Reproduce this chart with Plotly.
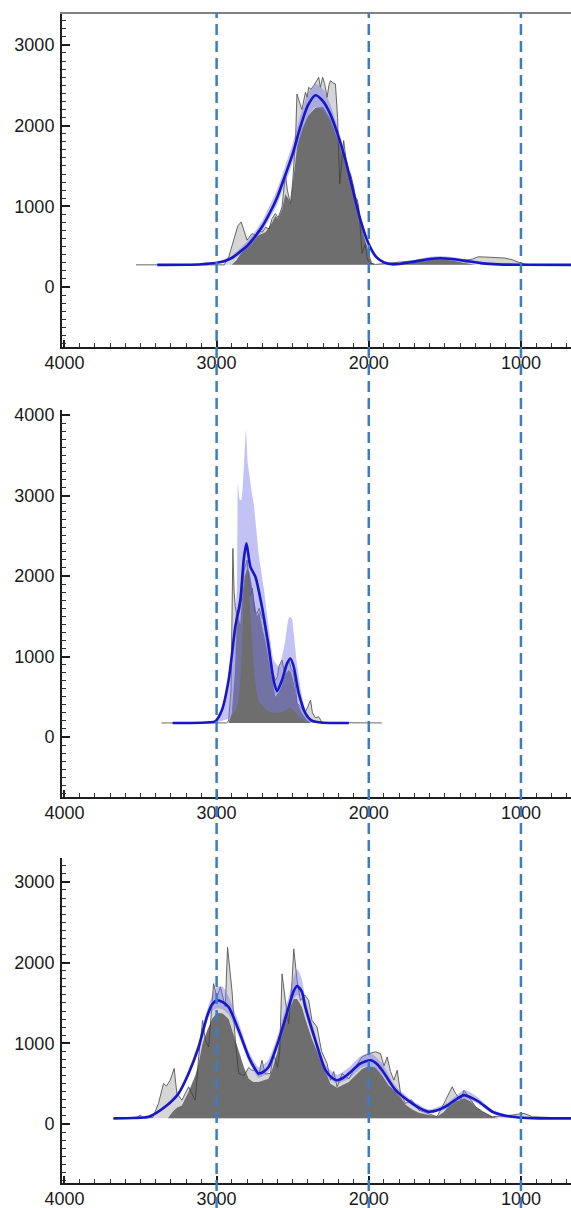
import plotly.graph_objects as go

# ---------------- data: panel 1 ----------------
base1 = 275
raw1_x = [3530, 2950, 2921, 2890, 2860, 2838, 2818, 2800, 2785, 2767, 2745, 2724, 2700, 2678, 2655, 2635, 2614, 2595,
          2570, 2560, 2548, 2535, 2515, 2500, 2493, 2480, 2472, 2455, 2440, 2416, 2405, 2395, 2380, 2362, 2340, 2329,
          2318, 2303, 2290, 2274, 2262, 2252, 2235, 2219, 2205, 2191, 2180, 2165, 2150, 2135, 2120, 2100, 2088, 2075,
          2066, 2055, 2044, 2033, 2022, 2011, 1995, 1956, 1900, 1800, 1700, 1600, 1520, 1450, 1380, 1320, 1280, 1240,
          1200, 1150, 1110, 1060, 1030, 1000, 960, 671]
raw1_y = [275, 275, 370, 560, 760, 806, 700, 580, 620, 663, 640, 704, 680, 740, 720, 850, 910, 860,
          992, 1150, 1404, 1200, 1034, 1300, 1486, 1900, 2392, 2300, 2200, 2413, 2350, 2474, 2450, 2495, 2577, 2598,
          2474, 2598, 2520, 2350, 2500, 2557, 2530, 2515, 2100, 1280, 1500, 1815, 1600, 1450, 1404, 1250, 1115, 1080,
          992, 700, 416, 480, 540, 354, 300, 280, 290, 300, 320, 345, 350, 340, 330, 345, 375, 372,
          370, 365, 360, 340, 320, 295, 280, 275]
dark1_x = [2900, 2870, 2840, 2800, 2767, 2724, 2678, 2635, 2614, 2595, 2570, 2548, 2530, 2515, 2493, 2470, 2440, 2400,
           2350, 2300, 2250, 2200, 2150, 2100, 2050, 2020, 2000, 1980, 1960, 1800, 1700, 1600, 1520, 1450,
           1380, 1300]
dark1_y = [275, 330, 420, 520, 600, 640, 680, 800, 880, 850, 960, 1150, 1100, 1030, 1400, 1750, 1950, 2120,
           2220, 2230, 2080, 1820, 1500, 1120, 760, 560, 420, 300, 275, 285, 310, 335, 340, 330,
           300, 275]
blue1_x = [3390, 3200, 3100, 3000, 2950, 2900, 2850, 2800, 2750, 2700, 2650, 2600, 2550, 2500, 2450, 2400, 2350, 2300,
           2250, 2200, 2150, 2100, 2050, 2000, 1950, 1900, 1850, 1800, 1700, 1600, 1530, 1450, 1350, 1250, 1150, 1000, 671]
blue1_y = [275, 276, 282, 300, 320, 360, 430, 510, 620, 750, 920, 1120, 1380, 1650, 1980, 2250, 2375, 2300,
           2130, 1870, 1550, 1170, 800, 530, 370, 305, 282, 285, 315, 348, 357, 347, 320, 293, 281, 276, 275]
band1_x = [3390, 3000, 2900, 2800, 2700, 2600, 2500, 2450, 2400, 2350, 2300, 2250, 2200, 2150, 2100, 2050, 2000, 1950,
           1900, 1800, 1700, 1600, 1530, 1450, 1350, 1250, 1150, 1000, 671]
band1_hi = [276, 310, 390, 560, 820, 1220, 1780, 2120, 2400, 2520, 2450, 2250, 1950, 1620, 1230, 850, 570, 395,
            320, 300, 335, 375, 385, 372, 338, 305, 288, 280, 277]
band1_lo = [274, 292, 335, 470, 690, 1030, 1540, 1850, 2110, 2230, 2180, 2030, 1790, 1480, 1110, 750, 495, 350,
            293, 275, 298, 325, 333, 325, 305, 283, 276, 275, 274]

# ---------------- data: panel 2 ----------------
base2 = 175
raw2_x = [3362, 2935, 2921, 2905, 2893, 2885, 2877, 2865, 2850, 2838, 2822, 2810, 2800, 2790, 2778, 2765, 2750, 2735,
          2720, 2705, 2691, 2675, 2658, 2645, 2630, 2614, 2600, 2590, 2570, 2555, 2540, 2526, 2510, 2495, 2480, 2471,
          2450, 2420, 2400, 2383, 2370, 2350, 2329, 2310, 2290, 1914]
raw2_y = [175, 175, 200, 600, 2343, 1800, 1619, 1500, 1550, 1700, 2050, 2150, 2200, 2000, 1750, 1850, 1550, 1536,
          1600, 1500, 1453, 1250, 1205, 1000, 800, 700, 750, 880, 956, 820, 900, 956, 850, 800, 600, 418,
          380, 300, 380, 460, 300, 240, 252, 190, 178, 175]
dark2_x = [2921, 2900, 2880, 2870, 2860, 2845, 2830, 2815, 2800, 2785, 2770, 2750, 2735, 2720, 2700, 2680, 2660, 2640,
           2614, 2590, 2570, 2550, 2526, 2510, 2490, 2470, 2440, 2410, 2380]
dark2_y = [175, 300, 800, 1300, 1500, 1400, 1800, 2000, 2094, 2050, 1900, 1650, 1500, 1550, 1350, 1200, 1000, 750,
           500, 560, 650, 780, 832, 800, 650, 420, 300, 220, 175]
blue2_x = [3289, 3100, 3050, 3009, 2965, 2921, 2877, 2844, 2822, 2804, 2778, 2745, 2702, 2658, 2625, 2603, 2570, 2537,
           2515, 2493, 2460, 2416, 2380, 2350, 2300, 2131]
blue2_y = [175, 178, 183, 195, 335, 708, 1370, 1702, 2198, 2406, 2115, 1991, 1619, 1122, 700, 570, 708, 915,
           976, 873, 542, 294, 210, 190, 178, 175]
band2_x = [3100, 3009, 2965, 2943, 2921, 2899, 2877, 2866, 2860, 2848, 2838, 2822, 2807, 2795, 2789, 2770, 2756, 2740,
           2724, 2691, 2658, 2625, 2592, 2570, 2548, 2530, 2520, 2505, 2493, 2471, 2438, 2416, 2394, 2350, 2300]
band2_hi = [178, 200, 360, 460, 800, 1038, 1500, 1867, 3150, 2950, 2943, 3300, 3813, 3400, 3316, 3050, 2900, 2600,
            2285, 1867, 1370, 956, 873, 1000, 1205, 1450, 1494, 1470, 1290, 900, 500, 330, 250, 200, 178]
band2_lo = [175, 180, 200, 215, 230, 270, 330, 380, 420, 600, 900, 1700, 2100, 2000, 1850, 1300, 900, 600,
            450, 370, 320, 300, 300, 310, 330, 350, 360, 350, 330, 280, 220, 195, 185, 178, 175]

# ---------------- data: panel 3 ----------------
base3 = 70
raw3_x = [3678, 3530, 3502, 3480, 3420, 3382, 3349, 3330, 3305, 3279, 3261, 3228, 3184, 3140, 3118, 3092, 3074, 3052,
          3020, 2998, 2975, 2943, 2928, 2899, 2877, 2855, 2820, 2789, 2770, 2745, 2724, 2702, 2680, 2647, 2625, 2600,
          2585, 2570, 2548, 2526, 2504, 2493, 2471, 2449, 2420, 2395, 2373, 2340, 2310, 2274, 2252, 2230, 2208, 2175,
          2130, 2088, 2044, 2000, 1956, 1923, 1900, 1879, 1857, 1835, 1813, 1791, 1758, 1720, 1671, 1610, 1551, 1506,
          1452, 1430, 1396, 1375, 1340, 1298, 1250, 1188, 1057, 980, 925, 671]
raw3_y = [70, 72, 111, 75, 80, 255, 503, 470, 543, 688, 379, 296, 461, 296, 832, 1284, 1037, 955,
          1739, 1574, 1700, 1450, 2190, 1655, 1037, 626, 600, 700, 667, 667, 600, 790, 620, 626, 873, 700,
          900, 1861, 1532, 1244, 1780, 2170, 1780, 1532, 1600, 1532, 1284, 1202, 900, 750, 543, 650, 461, 626,
          560, 708, 832, 873, 894, 873, 720, 832, 650, 543, 667, 379, 255, 300, 173, 130, 90, 255,
          461, 380, 296, 420, 330, 214, 150, 90, 111, 132, 90, 70]
dark3_x = [3320, 3290, 3261, 3228, 3184, 3140, 3118, 3092, 3064, 3030, 2998, 2960, 2921, 2880, 2855, 2820, 2789, 2760,
           2724, 2690, 2658, 2630, 2600, 2570, 2548, 2526, 2493, 2471, 2440, 2417, 2373, 2340, 2300, 2274, 2252, 2208,
           2175, 2131, 2088, 2044, 2000, 1956, 1912, 1870, 1835, 1791, 1758, 1715, 1671, 1605, 1551, 1506, 1475, 1430,
           1396, 1375, 1330, 1298, 1250, 1188, 1150]
dark3_y = [70, 150, 200, 230, 400, 600, 750, 1000, 1150, 1300, 1380, 1370, 1300, 1050, 900, 700, 560, 520,
           520, 540, 560, 700, 900, 1200, 1350, 1400, 1550, 1550, 1450, 1300, 1050, 900, 700, 600, 500, 450,
           480, 520, 600, 680, 720, 700, 600, 480, 420, 330, 240, 180, 140, 110, 90, 150, 220, 280,
           296, 320, 280, 214, 150, 90, 70]
blue3_x = [3678, 3550, 3447, 3338, 3250, 3184, 3118, 3064, 3030, 2998, 2960, 2921, 2855, 2789, 2750, 2724, 2690, 2658,
           2592, 2526, 2493, 2470, 2440, 2417, 2351, 2285, 2240, 2208, 2170, 2131, 2054, 1988, 1950, 1912, 1824, 1715,
           1660, 1605, 1550, 1496, 1430, 1375, 1330, 1276, 1188, 1120, 1057, 960, 881, 671]
blue3_y = [70, 75, 90, 214, 379, 626, 955, 1326, 1480, 1532, 1510, 1450, 1161, 831, 690, 626, 650, 708,
           1037, 1450, 1650, 1710, 1640, 1450, 1037, 667, 570, 543, 570, 626, 750, 790, 750, 667, 420, 255,
           190, 152, 170, 214, 300, 358, 330, 276, 152, 110, 90, 75, 70, 70]
band3_x = [3678, 3447, 3338, 3250, 3184, 3118, 3064, 3030, 2998, 2960, 2921, 2855, 2789, 2724, 2658, 2592, 2526, 2493,
           2470, 2440, 2417, 2351, 2285, 2208, 2131, 2054, 1988, 1912, 1824, 1715, 1605, 1496, 1430, 1375, 1330, 1276,
           1188, 1057, 881, 671]
band3_hi = [70, 95, 235, 410, 670, 1010, 1400, 1600, 1700, 1700, 1580, 1260, 900, 700, 800, 1140, 1580, 1820,
            1920, 1800, 1560, 1110, 730, 610, 700, 840, 880, 750, 470, 290, 180, 250, 345, 420, 390, 320,
            175, 100, 72, 70]
band3_lo = [70, 85, 195, 350, 590, 900, 1260, 1400, 1430, 1420, 1360, 1090, 770, 570, 640, 960, 1360, 1550,
            1600, 1540, 1370, 980, 610, 500, 560, 690, 720, 610, 380, 230, 130, 185, 270, 320, 290, 245,
            135, 82, 70, 69]

x_ticks = [4000, 3000, 2000, 1000]
y_ticks = [[0, 1000, 2000, 3000], [0, 1000, 2000, 3000, 4000], [0, 1000, 2000, 3000]]
y_ranges = [[-743, 3395], [-745, 4062], [-731, 3296]]
dashed_at = [3000, 2000, 1000]

# ---------------- styling ----------------
LIGHT = "#d6d6d6"
DARK = "#6e6e6e"
RAWLINE = "#3c3c3c"
BAND = "rgba(120,120,232,0.45)"
BLUE = "#1717c9"
FONT = dict(family="Liberation Sans, Arial, sans-serif", size=18, color="#1a1a1a")

panels = [
    (base1, raw1_x, raw1_y, dark1_x, dark1_y, band1_x, band1_hi, band1_lo, blue1_x, blue1_y),
    (base2, raw2_x, raw2_y, dark2_x, dark2_y, band2_x, band2_hi, band2_lo, blue2_x, blue2_y),
    (base3, raw3_x, raw3_y, dark3_x, dark3_y, band3_x, band3_hi, band3_lo, blue3_x, blue3_y),
]

fig = go.Figure()
H = 1208.0
W = 571.0
domains = [[1 - 347 / H, 1 - 13 / H], [1 - 797 / H, 1 - 410 / H], [1 - 1183 / H, 1 - 858 / H]]
xdom = [62 / W, 1.0]

for i, (b, rx, ry, dx, dy, bx, bh, bl, lx, ly) in enumerate(panels):
    xa = "x" if i == 0 else f"x{i+1}"
    ya = "y" if i == 0 else f"y{i+1}"
    fig.add_trace(go.Scatter(x=rx + [rx[-1], rx[0]], y=ry + [b, b], fill="toself", fillcolor=LIGHT,
                             line=dict(width=0), mode="lines", xaxis=xa, yaxis=ya, hoverinfo="skip"))
    fig.add_trace(go.Scatter(x=dx + [dx[-1], dx[0]], y=dy + [b, b], fill="toself", fillcolor=DARK,
                             line=dict(width=0), mode="lines", xaxis=xa, yaxis=ya, hoverinfo="skip"))
    fig.add_trace(go.Scatter(x=rx, y=ry, mode="lines", line=dict(color=RAWLINE, width=0.9),
                             opacity=0.85, xaxis=xa, yaxis=ya, hoverinfo="skip"))
    fig.add_trace(go.Scatter(x=bx + bx[::-1], y=bh + bl[::-1], fill="toself", fillcolor=BAND,
                             line=dict(width=0, shape="spline", smoothing=0.5), mode="lines",
                             xaxis=xa, yaxis=ya, hoverinfo="skip"))
    fig.add_trace(go.Scatter(x=lx, y=ly, mode="lines", line=dict(color=BLUE, width=2.6, shape="spline", smoothing=0.7),
                             xaxis=xa, yaxis=ya, hoverinfo="skip"))

layout = dict(width=571, height=1208, margin=dict(l=0, r=0, t=0, b=0, autoexpand=False), showlegend=False,
              plot_bgcolor="white", paper_bgcolor="white", font=FONT)
for i in range(3):
    xk = "xaxis" if i == 0 else f"xaxis{i+1}"
    yk = "yaxis" if i == 0 else f"yaxis{i+1}"
    ya = "y" if i == 0 else f"y{i+1}"
    xa = "x" if i == 0 else f"x{i+1}"
    layout[xk] = dict(domain=xdom, anchor=ya, range=[4016, 671], tickvals=x_ticks, ticks="inside", ticklen=7,
                      tickwidth=2, tickcolor="#1e1e1e", showline=True, linecolor="#1e1e1e", linewidth=2,
                      showgrid=False, zeroline=False, tickfont=FONT, automargin=False, ticklabelstandoff=-2,
                      minor=dict(dtick=100, tick0=0, ticks="inside", ticklen=4, tickwidth=1, tickcolor="#333"))
    layout[yk] = dict(domain=domains[i], anchor=xa, range=y_ranges[i], tickvals=y_ticks[i], ticks="inside",
                      ticklen=8, tickwidth=2, tickcolor="#1e1e1e", showline=True, linecolor="#1e1e1e", linewidth=2,
                      showgrid=False, zeroline=False, tickfont=FONT, ticklabelstandoff=2, automargin=False,
                      minor=dict(dtick=100, tick0=0, ticks="inside", ticklen=4, tickwidth=1, tickcolor="#333"))
fig.update_layout(**layout)

shapes = [dict(type="line", xref="paper", yref="paper", x0=60 / W, x1=1, y0=1 - 13 / H, y1=1 - 13 / H,
               line=dict(color="#808080", width=2))]
for xv in dashed_at:
    shapes.append(dict(type="line", xref="x", yref="paper", x0=xv, x1=xv, y0=0, y1=1 - 13 / H, layer="above",
                       line=dict(color="#3a7cc8", width=2.5, dash="11px,6px")))
fig.update_layout(shapes=shapes)

fig.write_html("out.html", config={"displayModeBar": False}, post_script="document.body.style.margin='0';")
